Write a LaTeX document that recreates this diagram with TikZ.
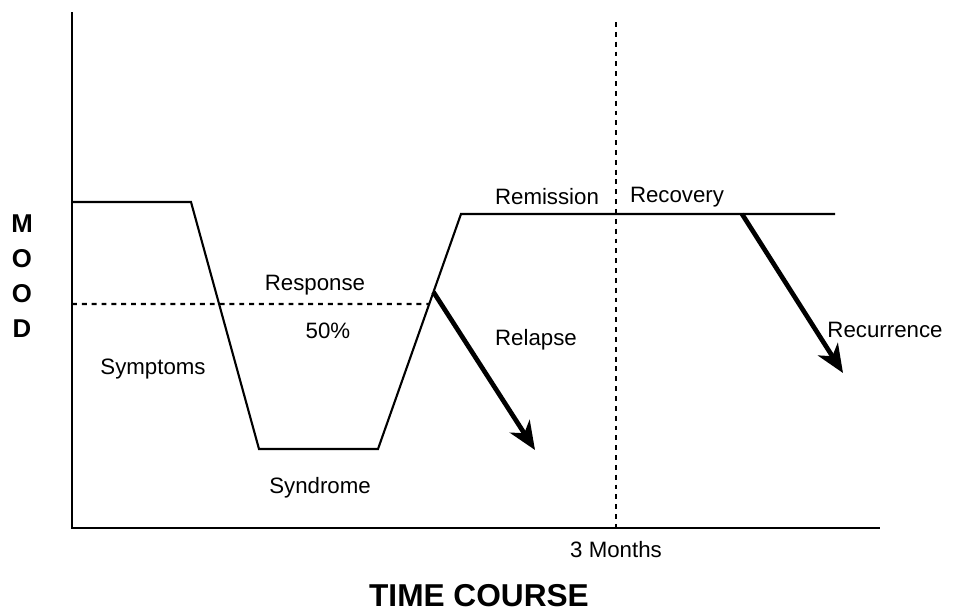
\documentclass[tikz,border=0pt]{standalone}
\usepackage{fontspec}
\setmainfont{Liberation Sans}
\usetikzlibrary{arrows.meta, positioning, calc}

\begin{document}
\begin{tikzpicture}[
        x=0.03cm, y=-0.03cm,
        lbl/.style={font=\fontsize{19}{22}\selectfont, inner sep=0pt},
        axis/.style={line width=2.5pt},
        mood/.style={line width=1.8pt, line join=miter},
        guide/.style={line width=1.8pt, dash pattern=on 4.2pt off 4.2pt},
        fall/.style={-{Stealth[length=24pt, width=20pt, inset=7pt]}, line width=4pt}
    ]
    \useasboundingbox (0,0) rectangle (958,614);

    % Axes
    \coordinate (origin) at (72,528);
    \coordinate (ytop) at (72,12);
    \coordinate (xend) at (880,528);
    \draw[axis] (ytop) -- (origin) -- (xend);

    % Mood curve
    \coordinate (start) at (72,202);
    \coordinate (drop) at (191,202);
    \coordinate (low1) at (259,449);
    \coordinate (low2) at (378,449);
    \coordinate (rise) at (461,214);
    \coordinate (stop) at (835,214);
    \draw[mood] (start) -- (drop) -- (low1) -- (low2) -- (rise) -- (stop);

    % Response threshold and 3 months line
    \coordinate (half) at (72,304);
    \coordinate (halfend) at ($(low2)!{145/235}!(rise)$);
    \draw[guide] (half) -- (halfend);
    \coordinate (mtop) at (616,22);
    \coordinate (mbot) at (616,528);
    \draw[guide] (mtop) -- (mbot);

    % Relapse and recurrence
    \coordinate (relstart) at ($(low2)!{157/235}!(rise)$);
    \coordinate (relend) at (535,450);
    \draw[fall] (relstart) -- (relend);
    \coordinate (recstart) at (742,214);
    \coordinate (recend) at (843,373);
    \draw[fall] (recstart) -- (recend);

    % Labels
    \node[lbl] (remission) at (547,197) {Remission};
    \node[lbl] (recovery) at (677,197) {Recovery};
    \node[lbl] (response) at (315,285) {Response};
    \node[lbl] (fifty) at (328,331) {50\%};
    \node[lbl] (symptoms) at (153,369) {Symptoms};
    \node[lbl] (syndrome) at (320,488) {Syndrome};
    \node[lbl] (relapse) at (536,340) {Relapse};
    \node[lbl] (recurrence) at (885,330) {Recurrence};
    \node[lbl] (months) at (616,550) {3 Months};
    \node[font=\fontsize{27}{30}\selectfont\bfseries, inner sep=0pt] (time) at (479,596) {TIME COURSE};
    \node[font=\fontsize{22}{30}\selectfont\bfseries, align=center, inner sep=0pt] (moodlbl) at (22,276)
        {M\\[0pt]O\\[0pt]O\\[0pt]D};

\end{tikzpicture}
\end{document}
